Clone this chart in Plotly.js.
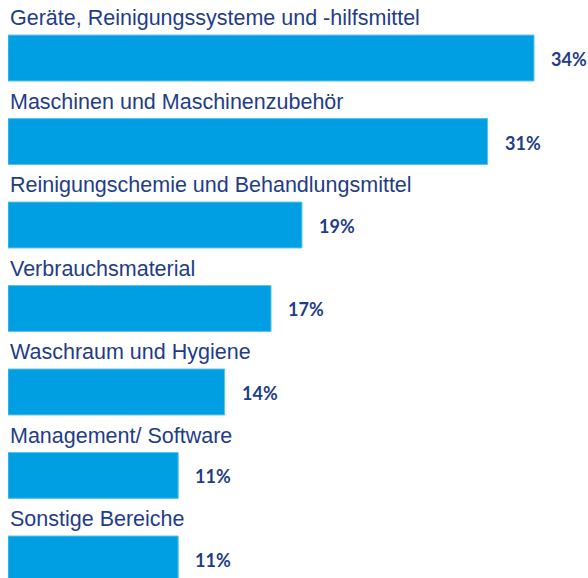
<!DOCTYPE html>
<html><head><meta charset="utf-8">
<script src="https://cdn.plot.ly/plotly-3.0.1.min.js"></script>
<style>html,body{margin:0;padding:0;background:#fff}#c{width:588px;height:578px}</style>
</head><body><div id="c"></div>
<script>
const categories = [
  "Geräte, Reinigungssysteme und -hilfsmittel",
  "Maschinen und Maschinenzubehör",
  "Reinigungschemie und Behandlungsmittel",
  "Verbrauchsmaterial",
  "Waschraum und Hygiene",
  "Management/ Software",
  "Sonstige Bereiche"
];
const values = [34, 31, 19, 17, 14, 11, 11];
const valueLabels = ["34%", "31%", "19%", "17%", "14%", "11%", "11%"];

const idx = categories.map((_, i) => i);
const barColor = "#009fe3";
const textColor = "#1f3d87";

const annotations = [];
categories.forEach((c, i) => {
  annotations.push({
    x: 0, y: i - 0.475, xref: "x", yref: "y", text: c, showarrow: false,
    xanchor: "left", yanchor: "middle", xshift: 0,
    font: {family: "Liberation Sans, Arial, sans-serif", size: 21.5, color: textColor}
  });
  annotations.push({
    x: values[i], y: i, xref: "x", yref: "y", text: "<b>" + valueLabels[i] + "</b>", showarrow: false,
    xanchor: "left", yanchor: "middle", xshift: 15, yshift: -1,
    font: {family: "Lato, sans-serif", size: 18, color: textColor}
  });
});

Plotly.newPlot("c", [{
  type: "bar", orientation: "h",
  x: values, y: idx, width: 0.55,
  marker: {color: barColor, line: {color: "#5cc2ee", width: 1}},
  hoverinfo: "none"
}], {
  width: 588, height: 578,
  margin: {l: 8, r: 0, t: 0, b: 0},
  paper_bgcolor: "#fff", plot_bgcolor: "#fff",
  xaxis: {range: [0, 37.49], visible: false, fixedrange: true},
  yaxis: {range: [6.228, -0.695], visible: false, fixedrange: true},
  showlegend: false,
  annotations: annotations
}, {staticPlot: true});
</script>
</body></html>
